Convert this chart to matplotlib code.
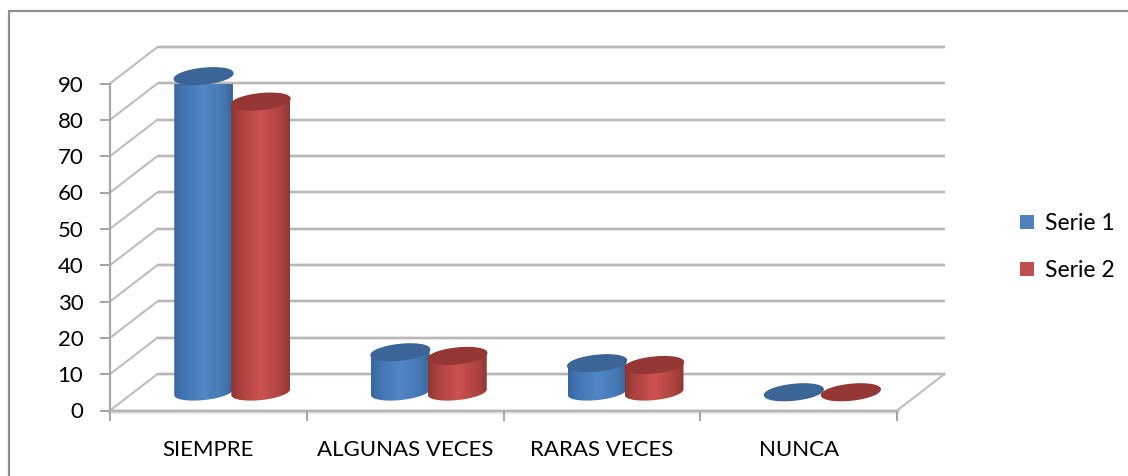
import matplotlib
matplotlib.use("Agg")
import matplotlib.pyplot as plt
from matplotlib.patches import Polygon, Rectangle
import numpy as np

categories = ["SIEMPRE", "ALGUNAS VECES", "RARAS VECES", "NUNCA"]
serie1 = [87, 11, 8, 0]
serie2 = [80, 10, 7.5, 0]
y_ticks = [0, 10, 20, 30, 40, 50, 60, 70, 80, 90]

W, H = 1128, 476
plt.rcParams['font.family'] = ['Lato', 'DejaVu Sans']

fig = plt.figure(figsize=(W / 100, H / 100), dpi=100)
# front plane of the 3d box, in pixels
left, right, bottom, top = 110, 897, 410.5, 83.5
ax = fig.add_axes([left / W, 1 - bottom / H, (right - left) / W, (bottom - top) / H])
ax.set_xlim(0, 4)
ax.set_ylim(0, 90)
ax.patch.set_visible(False)

px_x = 4 / (right - left)
px_y = 90 / (bottom - top)
depth_x = 47.5 * px_x
depth_y = 36.5 * px_y
grid_col = '#b4b4b4'

# walls
for v in y_ticks:
    ax.plot([depth_x, 4 + depth_x], [v + depth_y, v + depth_y], color='#e6e6e6', lw=3,
            clip_on=False, zorder=1, solid_capstyle='butt')
    ax.plot([depth_x, 4 + depth_x], [v + depth_y, v + depth_y], color=grid_col, lw=1.3,
            clip_on=False, zorder=1.1, solid_capstyle='butt')
    ax.plot([0, depth_x], [v, v + depth_y], color='#bdbdbd', lw=1.5, clip_on=False, zorder=1.1)
ax.plot([4, 4 + depth_x], [0, depth_y], color='#bdbdbd', lw=1.5, clip_on=False, zorder=1.1)
ax.plot([0, 4], [0, 0], color='#e2e2e2', lw=3.4, clip_on=False, zorder=1)

ax.set_xticks([0, 1, 2, 3, 4])
ax.set_xticklabels([])
ax.set_yticks(y_ticks)
ax.tick_params(axis='y', length=7.2, width=1.1, color='#8c8c8c', labelsize=16, pad=12,
               labelcolor='black')
ax.tick_params(axis='x', length=7.2, width=1.1, color='#8c8c8c')
for s in ['top', 'right']:
    ax.spines[s].set_visible(False)
ax.spines['left'].set_color('#a8a8a8')
ax.spines['left'].set_linewidth(1.6)
ax.spines['bottom'].set_color(grid_col)
ax.spines['bottom'].set_linewidth(1.6)

for i, c in enumerate(categories):
    ax.text(i + 0.5, -10.8, c, ha='center', va='center', fontsize=16, color='black', clip_on=False)


def ellipse(cx, cy, t):
    # slightly tilted ellipse, half sizes in pixels
    a, b, tilt = 29.5, 7.8, np.radians(6)
    ex = a * np.cos(t) * np.cos(tilt) - b * np.sin(t) * np.sin(tilt)
    ey = a * np.cos(t) * np.sin(tilt) + b * np.sin(t) * np.cos(tilt)
    return cx + ex * px_x, cy + ey * px_y


def cylinder(xc, value, stops, top_col, z):
    yb = depth_y / 2
    yt = yb + value
    t_low = np.linspace(np.pi, 2 * np.pi, 40)
    t_up = np.linspace(0, np.pi, 40)
    bx, by = ellipse(xc, yb, t_low)
    tx, ty = ellipse(xc, yt, t_up)
    pts = np.column_stack([np.r_[bx, tx], np.r_[by, ty]])
    if value > 0:
        poly = Polygon(pts, closed=True, transform=ax.transData, facecolor='none', edgecolor='none')
        ax.add_patch(poly)
        grad = np.linspace(0, 1, 64)
        rgb = np.array([np.interp(grad, [0, 0.12, 0.5, 0.85, 1], [s[k] for s in stops]) for k in range(3)])
        im = ax.imshow(rgb.T[None, :, :], extent=[pts[:, 0].min(), pts[:, 0].max(), yb - 3, yt + 3],
                       aspect='auto', zorder=z, interpolation='bilinear')
        im.set_clip_path(poly)
    t = np.linspace(0, 2 * np.pi, 80)
    ex, ey = ellipse(xc, yt, t)
    ax.fill(ex, ey, color=top_col, zorder=z + 0.01, clip_on=False)


blue_stops = [(0.22, 0.40, 0.62), (0.26, 0.45, 0.69), (0.32, 0.53, 0.78), (0.27, 0.47, 0.70), (0.22, 0.39, 0.60)]
red_stops = [(0.54, 0.21, 0.20), (0.66, 0.25, 0.24), (0.80, 0.32, 0.31), (0.68, 0.26, 0.25), (0.56, 0.22, 0.21)]
bar_off = 0.145
for i in range(len(categories)):
    xc = i + 0.5 + depth_x / 2
    cylinder(xc - bar_off, serie1[i], blue_stops, '#3a6596', 3 + i)
    cylinder(xc + bar_off, serie2[i], red_stops, '#943735', 3.5 + i)
ax.set_xlim(0, 4)
ax.set_ylim(0, 90)

# legend
for yy, col, name in [(222, '#4f81bd', 'Serie 1'), (269, '#c0504d', 'Serie 2')]:
    fig.add_artist(Rectangle((1020 / W, 1 - (yy + 7) / H), 14 / W, 14 / H, transform=fig.transFigure,
                             facecolor=col, edgecolor='none'))
    fig.text(1045 / W, 1 - (yy + 1.5) / H, name, fontsize=16.5, va='center', ha='left', color='black')

# outer frame, only top and left are in the crop
fig.add_artist(plt.Line2D([8.5 / W, 8.5 / W, 1], [0, 1 - 10.5 / H, 1 - 10.5 / H], color='#8e8e8e', lw=1.6,
                          transform=fig.transFigure))

fig.savefig('out.png', dpi=100)
